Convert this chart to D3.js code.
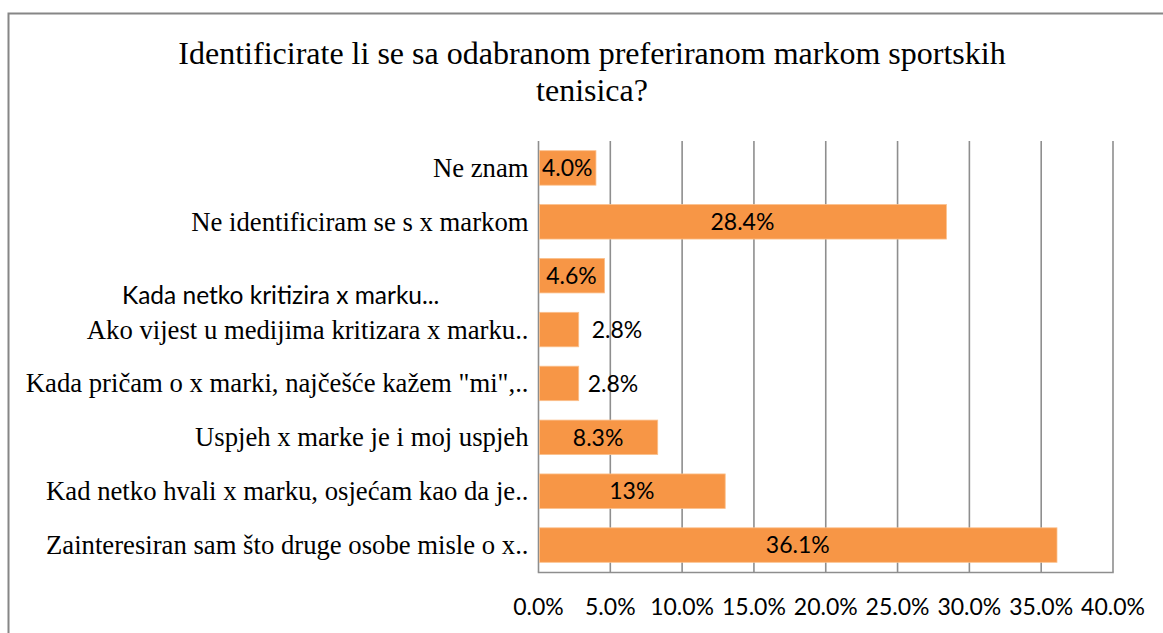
<!DOCTYPE html>
<html>
<head>
<meta charset="utf-8">
<script src="https://cdn.jsdelivr.net/npm/d3@7"></script>
<style>
  html, body { margin: 0; padding: 0; background: #fff; }
  svg { display: block; }
</style>
</head>
<body>
<svg id="chart" width="1163" height="633"></svg>
<script>
// ---- data ----
const titleLines = ["Identificirate li se sa odabranom preferiranom markom sportskih", "tenisica?"];
const categories = [
  "Ne znam",
  "Ne identificiram se s x markom",
  "Kada netko kritizira x marku...",
  "Ako vijest u medijima kritizara x marku..",
  "Kada pričam o x marki, najčešće kažem \"mi\",..",
  "Uspjeh x marke je i moj uspjeh",
  "Kad netko hvali x marku, osjećam kao da je..",
  "Zainteresiran sam što druge osobe misle o x.."
];
const values = [4.0, 28.4, 4.6, 2.8, 2.8, 8.3, 13.0, 36.1];
const valueLabels = ["4.0%", "28.4%", "4.6%", "2.8%", "2.8%", "8.3%", "13%", "36.1%"];
const xTicks = [0, 5, 10, 15, 20, 25, 30, 35, 40];
const xTickLabels = ["0.0%", "5.0%", "10.0%", "15.0%", "20.0%", "25.0%", "30.0%", "35.0%", "40.0%"];

// ---- layout (not data) ----
const labelNudge = [null, null, null, 13, 9, null, null, null]; // px right of bar end, null = centred
const sansCategory = 2; // the category drawn as a separate sans-serif text box

const svg = d3.select("#chart");
const W = 1163, H = 633;
const plot = { left: 538.5, right: 1113, top: 141, bottom: 572 };

// chart border
svg.append("rect")
  .attr("x", 8.5).attr("y", 13.5)
  .attr("width", W + 10).attr("height", H + 10)
  .attr("fill", "#fff").attr("stroke", "#868686").attr("stroke-width", 2);

// title
svg.append("text")
  .attr("text-anchor", "middle")
  .attr("font-family", "'Liberation Serif', 'Times New Roman', serif")
  .attr("font-size", 32).attr("fill", "#000")
  .selectAll("tspan").data(titleLines).join("tspan")
  .attr("x", 592)
  .attr("y", (d, i) => 64 + i * 37)
  .text(d => d);

const x = d3.scaleLinear().domain([0, 40]).range([plot.left, plot.right]);
const y = d3.scaleBand().domain(categories).range([plot.top, plot.bottom])
  .paddingInner(0.36).paddingOuter(0.18);

// gridlines
svg.append("g").selectAll("line").data(xTicks).join("line")
  .attr("x1", d => x(d)).attr("x2", d => x(d))
  .attr("y1", plot.top).attr("y2", plot.bottom)
  .attr("stroke", "#8e8e8e").attr("stroke-width", 1.6);

// bottom axis line
svg.append("line")
  .attr("x1", plot.left - 0.8).attr("x2", plot.right + 0.8)
  .attr("y1", plot.bottom + 0.5).attr("y2", plot.bottom + 0.5)
  .attr("stroke", "#8e8e8e").attr("stroke-width", 1.6);

// bars
svg.append("g").selectAll("rect").data(values).join("rect")
  .attr("x", x(0) + 1)
  .attr("y", (d, i) => y(categories[i]))
  .attr("width", d => x(d) - x(0) - 1)
  .attr("height", y.bandwidth())
  .attr("fill", "#F79646")
  .attr("stroke", "#fbc08c").attr("stroke-width", 0.8);

// value labels
svg.append("g").selectAll("text").data(values).join("text")
  .attr("font-family", "Lato, 'Open Sans', sans-serif")
  .attr("font-size", 23).attr("fill", "#000")
  .attr("text-anchor", (d, i) => labelNudge[i] == null ? "middle" : "start")
  .attr("x", (d, i) => labelNudge[i] == null ? (x(0) + x(d)) / 2 : x(d) + labelNudge[i])
  .attr("y", (d, i) => y(categories[i]) + y.bandwidth() / 2)
  .attr("dy", "0.36em")
  .text((d, i) => valueLabels[i]);

// category labels
svg.append("g").selectAll("text").data(categories).join("text")
  .attr("fill", "#000")
  .attr("font-family", (d, i) => i === sansCategory ? "Lato, 'Open Sans', sans-serif" : "'Liberation Serif', 'Times New Roman', serif")
  .attr("font-size", (d, i) => i === sansCategory ? 24.5 : 26.7)
  .attr("text-anchor", (d, i) => i === sansCategory ? "start" : "end")
  .attr("x", (d, i) => i === sansCategory ? 122 : plot.left - 10)
  .attr("y", (d, i) => y(d) + y.bandwidth() / 2 + (i === sansCategory ? 28.5 : 9))
  .text(d => d);

// x tick labels
svg.append("g").selectAll("text").data(xTicks).join("text")
  .attr("font-family", "Lato, 'Open Sans', sans-serif")
  .attr("font-size", 23).attr("fill", "#000")
  .attr("text-anchor", "middle")
  .attr("x", d => x(d))
  .attr("y", 615)
  .text((d, i) => xTickLabels[i]);
</script>
</body>
</html>
